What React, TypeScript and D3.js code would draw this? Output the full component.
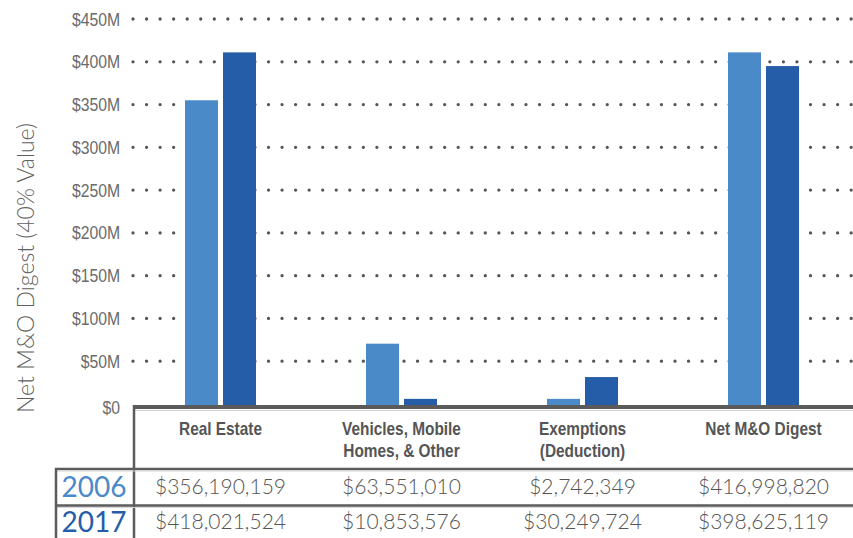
import React from "react";
import * as d3 from "d3";

// categories and series
const categories = ["Real Estate", "Vehicles, Mobile Homes, & Other", "Exemptions (Deduction)", "Net M&O Digest"];
const headerLines = [["Real Estate"], ["Vehicles, Mobile", "Homes, & Other"], ["Exemptions", "(Deduction)"], ["Net M&O Digest"]];
const years = ["2006", "2017"];
// bar heights as drawn in the chart, $M
const values2006 = [355, 70.5, 6, 411];
const values2017 = [411, 6, 31.5, 395];
// table text
const table2006 = ["$356,190,159", "$63,551,010", "$2,742,349", "$416,998,820"];
const table2017 = ["$418,021,524", "$10,853,576", "$30,249,724", "$398,625,119"];
const ticks = [0, 50, 100, 150, 200, 250, 300, 350, 400, 450];

const colors = { "2006": "#4a8ac9", "2017": "#255da9" };
const lineColor = "#5b5b5b";
const W = 853;
const H = 538;
const narrow = "'Liberation Sans Narrow', 'Liberation Sans', Arial, sans-serif";

export default function App() {
  const x0 = d3.scaleBand<string>().domain(categories).range([130, 854]);
  const x1 = d3.scaleBand<string>().domain(years).range([0, 71]).paddingInner(0.1316);
  const y = d3.scaleLinear().domain([0, 450]).range([404, 19]);

  const series = [values2006, values2017];
  const rows = [table2006, table2017];
  const mid = (c: string) => (x0(c) as number) + x0.bandwidth() / 2;

  return (
    <svg width={W} height={H} style={{ position: "absolute", left: 0, top: 0 }}>
      <rect width={W} height={H} fill="#fff" />
      {/* dotted gridlines */}
      {ticks.filter(t => t > 0).map(t => (
        <line key={t} x1={133} x2={W} y1={y(t)} y2={y(t)} stroke="#555" strokeWidth={3.3}
          strokeLinecap="round" strokeDasharray="0 13.55" />
      ))}
      {/* tick labels, squeezed horizontally */}
      {ticks.map(t => (
        <text key={t} transform={`translate(120,${y(t) + 6.5 + (t === 0 ? 3 : 0)}) scale(0.9,1)`}
          textAnchor="end" fontSize={17.5} fontFamily={narrow} fill="#6b6b6b">
          {t === 0 ? "$0" : `$${t}M`}
        </text>
      ))}
      {/* bars */}
      {categories.map((c, i) => (
        <g key={c} transform={`translate(${(x0(c) as number) + (x0.bandwidth() - 71) / 2},0)`}>
          {years.map((yr, j) => (
            <rect key={yr} x={x1(yr)} width={x1.bandwidth()} y={y(series[j][i])}
              height={y(0) - y(series[j][i]) + 1} fill={colors[yr]} />
          ))}
        </g>
      ))}
      {/* axis title */}
      <text transform="translate(34,268) rotate(-90)" textAnchor="middle" fontSize={23}
        fontFamily="Lato, 'Open Sans', sans-serif" fontWeight={300} fill="#606060">
        Net M&amp;O Digest (40% Value)
      </text>
      {/* table frame */}
      <line x1={133} x2={W} y1={407} y2={407} stroke={lineColor} strokeWidth={4} />
      <line x1={133} x2={W} y1={410.5} y2={410.5} stroke="#d5d5d5" strokeWidth={1} />
      <line x1={134} x2={134} y1={405} y2={H} stroke={lineColor} strokeWidth={2.5} />
      <line x1={55} x2={W} y1={469} y2={469} stroke={lineColor} strokeWidth={2.5} />
      <line x1={55} x2={W} y1={471} y2={471} stroke="#d5d5d5" strokeWidth={1} />
      <line x1={55} x2={W} y1={505.5} y2={505.5} stroke={lineColor} strokeWidth={2.5} />
      <line x1={55} x2={W} y1={507.5} y2={507.5} stroke="#d5d5d5" strokeWidth={1} />
      <line x1={56} x2={56} y1={468} y2={H} stroke={lineColor} strokeWidth={2.5} />
      {/* headers */}
      {categories.map((c, i) => (
        <g key={c} transform={`translate(${mid(c)},0) scale(0.88,1)`}>
          {headerLines[i].map((l, k) => (
            <text key={k} x={0} y={435 + k * 22} textAnchor="middle" fontSize={17.5}
              fontWeight={700} fill="#555" fontFamily={narrow}>
              {l}
            </text>
          ))}
        </g>
      ))}
      {/* year labels */}
      {years.map((yr, j) => (
        <text key={yr} x={94} y={j === 0 ? 497 : 532} textAnchor="middle" fontSize={28}
          fontFamily="Lato, 'Open Sans', sans-serif" fill={colors[yr]}>
          {yr}
        </text>
      ))}
      {/* table values */}
      {rows.map((row, j) =>
        row.map((v, i) => (
          <text key={`${j}-${i}`} x={mid(categories[i])} y={j === 0 ? 494 : 529} textAnchor="middle"
            fontSize={21} fontFamily="Lato, 'Open Sans', sans-serif" fontWeight={300} fill="#555">
            {v}
          </text>
        ))
      )}
    </svg>
  );
}
